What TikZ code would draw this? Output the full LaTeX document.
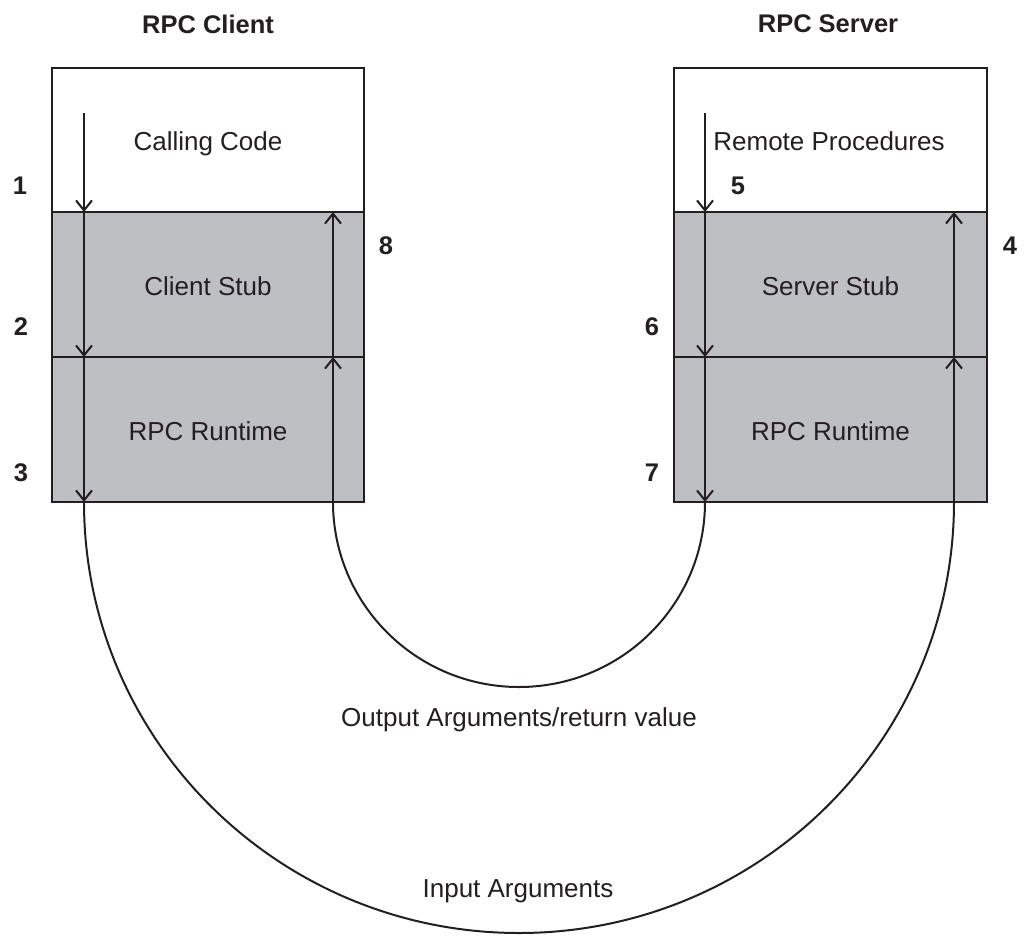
\documentclass[tikz,border=0pt]{standalone}
\usepackage{fontspec}
\setmainfont{Liberation Sans}
\usetikzlibrary{arrows.meta}
\definecolor{ink}{RGB}{35,31,32}
\definecolor{stubgray}{RGB}{190,191,194}
\begin{document}
\begin{tikzpicture}[x=1pt,y=-1pt,
  layer/.style={draw=ink,line width=2.4pt,minimum height=145pt,inner sep=0pt,
    text height=21pt,text depth=0pt,
    font=\fontsize{26}{30}\selectfont,text=ink},
  clientw/.style={minimum width=312pt},
  serverw/.style={minimum width=313pt},
  topbox/.style={layer,fill=white,minimum height=144pt},
  graybox/.style={layer,fill=stubgray},
  flow/.style={draw=ink,line width=2pt},
  tip/.style={flow,-{Straight Barb[length=10pt,width=16pt,line width=2pt]}},
  title/.style={font=\fontsize{25.5}{30}\selectfont\bfseries,text=ink},
  num/.style={font=\fontsize{25.5}{30}\selectfont\bfseries,text=ink},
  label/.style={font=\fontsize{26}{30}\selectfont,text=ink}]
\useasboundingbox (0,0) rectangle (1028,935);

% titles
\node[title] (tc) at (208,24) {RPC Client};
\node[title] (ts) at (828,24) {RPC Server};

% client stack
\node[topbox,clientw] (cc) at (208,140) {Calling Code};
\node[graybox,clientw] (cs) at (208,284.5) {Client Stub};
\node[graybox,clientw] (cr) at (208,429.5) {RPC Runtime};

% server stack
\node[topbox,serverw] (rp) at (830.5,140) {\hspace*{-3pt}Remote Procedures};
\node[graybox,serverw] (ss) at (830.5,284.5) {Server Stub};
\node[graybox,serverw] (sr) at (830.5,429.5) {RPC Runtime};

% flow points
\coordinate (a0) at (84,113);
\coordinate (a1) at (84,212);
\coordinate (a2) at (84,357);
\coordinate (a3) at (84,502);
\coordinate (b0) at (954,502);
\coordinate (b1) at (954,357);
\coordinate (b2) at (954,212);
\coordinate (s0) at (705,113);
\coordinate (s1) at (705,212);
\coordinate (s2) at (705,357);
\coordinate (s3) at (705,502);
\coordinate (r0) at (333,502);
\coordinate (r1) at (333,357);
\coordinate (r2) at (333,212);

% client downward call
\draw[tip] (a0) -- (a1);
\draw[tip] (a1) -- (a2);
\draw[tip] (a2) -- (a3);
% input arguments arc
\draw[flow] (a3) arc[start angle=180,end angle=0,x radius=435,y radius=431];
% server upward
\draw[tip] (b0) -- (b1);
\draw[tip] (b1) -- (b2);

% server downward
\draw[tip] (s0) -- (s1);
\draw[tip] (s1) -- (s2);
\draw[tip] (s2) -- (s3);
% output arc
\draw[flow] (s3) arc[start angle=0,end angle=180,x radius=186,y radius=185];
% client upward
\draw[tip] (r0) -- (r1);
\draw[tip] (r1) -- (r2);

% step numbers
\node[num] (n1) at (20,186) {1};
\node[num] (n2) at (21,327) {2};
\node[num] (n3) at (21,473) {3};
\node[num] (n8) at (386,246) {8};
\node[num] (n5) at (738,186) {5};
\node[num] (n4) at (1010,246) {4};
\node[num] (n6) at (652,327) {6};
\node[num] (n7) at (652,473) {7};

% arc labels
\node[label] (oa) at (519,720) {Output Arguments/return value};
\node[label] (ia) at (518,891) {Input Arguments};
\end{tikzpicture}
\end{document}
